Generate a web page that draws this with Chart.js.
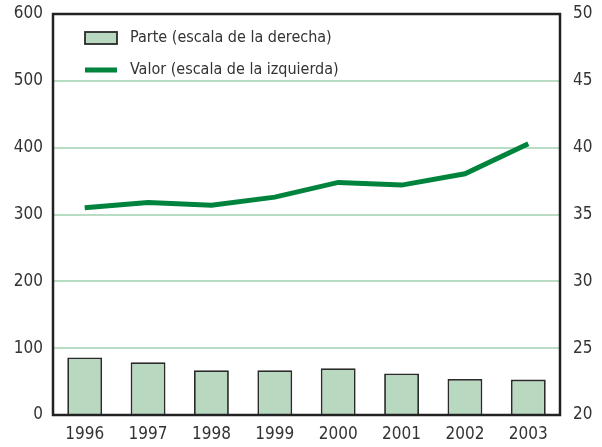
<!DOCTYPE html>
<html>
<head>
<meta charset="utf-8">
<style>
  html, body { margin: 0; padding: 0; background: #fff; }
  .wrap { position: relative; width: 602px; height: 447px; }
</style>
</head>
<body>
<div class="wrap"><canvas id="chart1"></canvas></div>
<script src="https://cdn.jsdelivr.net/npm/chart.js@4/dist/chart.umd.min.js"></script>
<script>
  const years = ['1996', '1997', '1998', '1999', '2000', '2001', '2002', '2003']
  // share, right axis
  const parte = [24.3, 23.95, 23.35, 23.35, 23.5, 23.1, 22.7, 22.65]
  // value, left axis
  const valor = [310, 318, 314, 326, 348, 344, 361, 406]
  const leftTicks = [0, 100, 200, 300, 400, 500, 600]
  const rightTicks = [20, 25, 30, 35, 40, 45, 50]

  const FONT = "'Liberation Sans Narrow', 'DejaVu Sans Condensed', sans-serif"
  const TEXT = '#333333'
  const GRID = '#b9dcc5'
  const BAR = '#b8d8c0'
  const LINE = '#00843d'

  // frame around the plot area
  const framePlugin = {
    id: 'frame',
    afterDatasetsDraw(chart) {
      const { ctx, chartArea: a } = chart
      ctx.save()
      ctx.strokeStyle = '#222'
      ctx.lineWidth = 2.5
      ctx.strokeRect(a.left, a.top, a.right - a.left, a.bottom - a.top)
      ctx.restore()
    }
  }

  // legend drawn inside the plot, top left
  const insideLegend = {
    id: 'insideLegend',
    afterDraw(chart) {
      const { ctx } = chart
      const x0 = 85, y0 = 38, gap = 32
      ctx.save()
      ctx.font = '16px ' + FONT
      ctx.textBaseline = 'middle'
      chart.data.datasets.forEach((ds, i) => {
        const y = y0 + i * gap
        if (ds.type === 'bar') {
          ctx.fillStyle = ds.backgroundColor
          ctx.fillRect(x0, y - 6, 32, 12)
          ctx.strokeStyle = ds.borderColor
          ctx.lineWidth = 1.8
          ctx.strokeRect(x0, y - 6, 32, 12)
        } else {
          ctx.fillStyle = ds.borderColor
          ctx.fillRect(x0, y - 2.5, 32, 5)
        }
        ctx.fillStyle = TEXT
        ctx.fillText(ds.label, x0 + 45, y)
      })
      ctx.restore()
    }
  }

  // keep the plot edges fixed, tick labels may overflow
  const fitSide = w => s => {
    s.width = w
    s.paddingTop = 0
    s.paddingBottom = 0
  }

  new Chart(document.getElementById('chart1'), {
    data: {
      labels: years,
      datasets: [
        {
          type: 'bar',
          label: 'Parte (escala de la derecha)',
          data: parte,
          backgroundColor: BAR,
          borderColor: '#2a2a2a',
          borderWidth: 1.8,
          borderSkipped: false,
          barPercentage: 0.55,
          categoryPercentage: 1,
          yAxisID: 'y1',
          order: 2
        },
        {
          type: 'line',
          label: 'Valor (escala de la izquierda)',
          data: valor,
          borderColor: LINE,
          borderWidth: 5,
          pointRadius: 0,
          tension: 0,
          yAxisID: 'y',
          order: 1
        }
      ]
    },
    options: {
      responsive: true,
      maintainAspectRatio: false,
      animation: false,
      layout: { padding: { top: 14, left: 0, right: 0, bottom: 0 } },
      plugins: {
        legend: { display: false },
        tooltip: { enabled: false }
      },
      scales: {
        x: {
          grid: { display: false, drawTicks: false },
          border: { display: false },
          ticks: {
            color: TEXT,
            padding: 9,
            maxRotation: 0,
            font: { family: FONT, size: 17 }
          },
          afterFit: s => {
            s.height = 32
            s.paddingLeft = 0
            s.paddingRight = 0
          }
        },
        y: {
          position: 'left',
          min: 0,
          max: 600,
          afterBuildTicks: s => { s.ticks = leftTicks.map(v => ({ value: v })) },
          grid: {
            color: c => (c.tick.value === 0 || c.tick.value === 600 ? 'rgba(0,0,0,0)' : GRID),
            lineWidth: 2,
            drawTicks: false
          },
          border: { display: false },
          ticks: {
            color: TEXT,
            padding: 10,
            font: { family: FONT, size: 17 }
          },
          afterFit: fitSide(53)
        },
        y1: {
          position: 'right',
          min: 20,
          max: 50,
          afterBuildTicks: s => { s.ticks = rightTicks.map(v => ({ value: v })) },
          grid: { display: false, drawTicks: false },
          border: { display: false },
          ticks: {
            color: TEXT,
            padding: 13,
            font: { family: FONT, size: 17 }
          },
          afterFit: fitSide(42)
        }
      }
    },
    plugins: [framePlugin, insideLegend]
  })
</script>
</body>
</html>
